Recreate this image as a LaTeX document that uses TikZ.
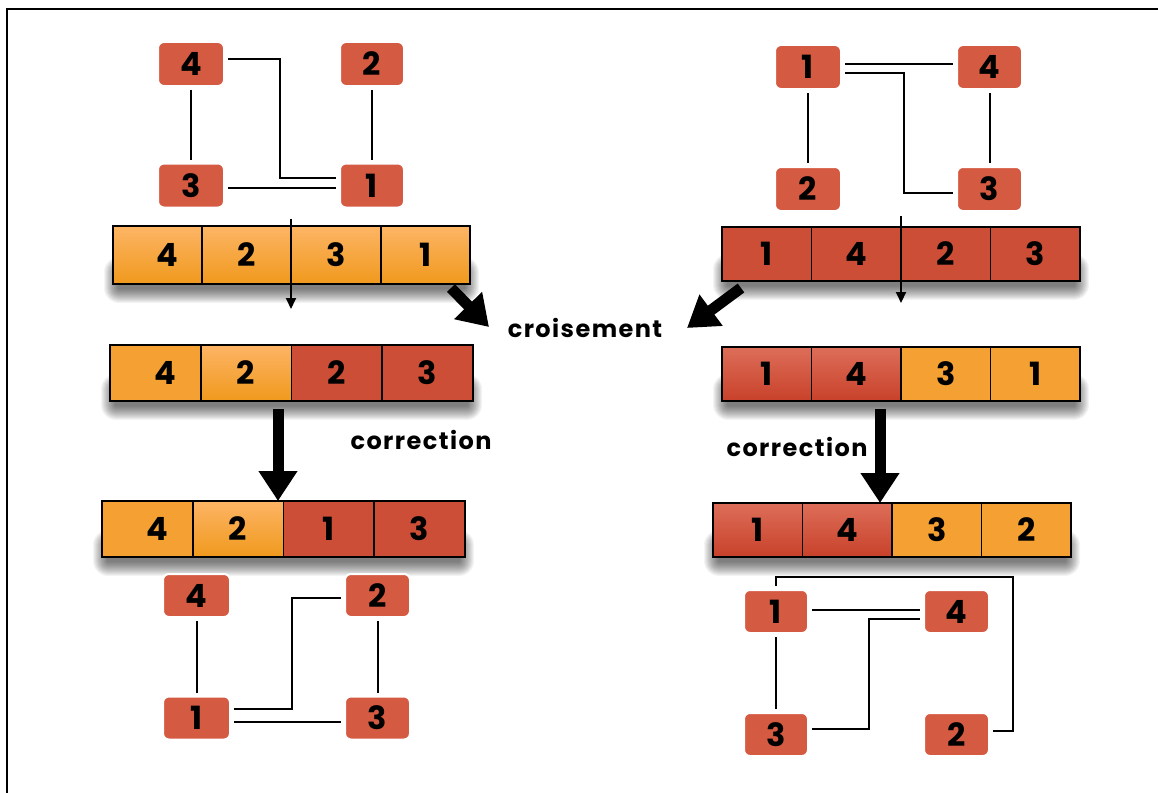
\documentclass[tikz,border=0pt]{standalone}
\usepackage{fontspec}
\setmainfont{Poppins}
\usetikzlibrary{arrows.meta,calc}

\definecolor{nodered}{HTML}{D55A42}
\definecolor{cellred}{HTML}{CD4E37}
\definecolor{redtop}{HTML}{DD6E59}
\definecolor{redbot}{HTML}{C8412A}
\definecolor{orflat}{HTML}{F4A032}
\definecolor{ortop}{HTML}{FDB565}
\definecolor{orbot}{HTML}{F0991D}

\newcommand\dgfont{\fontsize{32}{38}\selectfont\bfseries}
\newcommand\lbfont{\fontsize{24}{28}\selectfont\bfseries\addfontfeature{LetterSpace=6}}

% soft drop shadow under an array frame: stacked translucent rectangles
\newcommand\arrshadow[1]{%
  \foreach \r in {1,...,15}{%
    \fill[black, opacity=0.045, rounded corners=\r pt]
      ($(#1.south west)+(6-\r,-12-\r)$) rectangle ($(#1.south east)+(\r-6,4+\r)$);
  }}

\begin{document}
\begin{tikzpicture}[x=1pt,y=-1pt,
  gnode/.style={fill=nodered, draw=white, line width=2pt, rounded corners=6pt,
    minimum width=66pt, minimum height=44pt, inner sep=0pt, outer sep=4pt, font=\dgfont},
  arrframe/.style={draw=none, outer sep=0pt, inner sep=0pt},
  cell/.style={draw=black, line width=1.8pt, inner sep=0pt, outer sep=0pt, font=\dgfont},
  rflat/.style={fill=cellred},
  rgrad/.style={top color=redtop, bottom color=redbot},
  oflat/.style={fill=orflat},
  ograd/.style={top color=ortop, bottom color=orbot},
  edge/.style={line width=2pt},
  cutarrow/.style={line width=2pt, -{Triangle[length=11pt,width=10pt]}},
  bigarrow/.style={line width=11pt, -{Triangle[length=30pt,width=37pt]}},
  lbl/.style={font=\lbfont, inner sep=0pt}
]
\useasboundingbox (0,0) rectangle (1158,792);
\fill[white] (0,0) rectangle (1158,792);
% outer frame (top and left edges)
\draw[line width=2.5pt] (7,800) -- (7,9) -- (1170,9);

% ---------- top-left parent graph ----------
\node[gnode] (TL4) at (191,64) {4};
\node[gnode, minimum width=64pt] (TL2) at (372,64) {2};
\node[gnode] (TL3) at (191,185.5) {3};
\node[gnode, minimum width=64pt] (TL1) at (372,185.5) {1};
\draw[edge] (TL4.south) -- (TL3.north);
\draw[edge] (TL2.south) -- (TL1.north);
\draw[edge] ($(TL4.east)+(0,-5)$) -- ++(52,0) |- ($(TL1.west)+(0,-8)$);
\draw[edge] ($(TL3.east)+(0,2.5)$) -- ($(TL1.west)+(0,2.5)$);

% ---------- top-right parent graph ----------
\node[gnode] (TR1) at (808,67) {1};
\node[gnode, minimum width=65pt] (TR4) at (989.5,67) {4};
\node[gnode] (TR2) at (808,189) {2};
\node[gnode, minimum width=65pt] (TR3) at (989.5,189) {3};
\draw[edge] ($(TR1.east)+(0,-3)$) -- ($(TR4.west)+(0,-3)$);
\draw[edge] ($(TR1.east)+(0,6)$) -- ++(59,0) |- ($(TR3.west)+(0,4)$);
\draw[edge] (TR1.south) -- (TR2.north);
\draw[edge] (TR4.south) -- (TR3.north);

% ---------- parent arrays ----------
\node[arrframe, minimum width=357pt, minimum height=58pt] (A1) at (291.5,255) {};
\arrshadow{A1}
\node[cell, ograd, minimum width=89.25pt, minimum height=58pt] (A1a) at (157.6,255) {\hspace{20pt}4};
\node[cell, ograd, minimum width=89.25pt, minimum height=58pt] (A1b) at (246.9,255) {2};
\node[cell, ograd, minimum width=89.25pt, minimum height=58pt] (A1c) at (336.1,255) {3};
\node[cell, ograd, minimum width=89.25pt, minimum height=58pt] (A1d) at (425.4,255) {1};

\node[arrframe, minimum width=358pt, minimum height=54pt] (A2) at (901,254) {};
\arrshadow{A2}
\node[cell, rflat, minimum width=89.5pt, minimum height=54pt] (A2a) at (766.75,254) {1};
\node[cell, rflat, minimum width=89.5pt, minimum height=54pt] (A2b) at (856.25,254) {4};
\node[cell, rflat, minimum width=89.5pt, minimum height=54pt] (A2c) at (945.75,254) {2};
\node[cell, rflat, minimum width=89.5pt, minimum height=54pt] (A2d) at (1035.25,254) {3};

% cut points
\coordinate (cutL0) at (291,219);
\coordinate (cutL1) at (291,309);
\draw[cutarrow] (cutL0) -- (cutL1);
\coordinate (cutR0) at (901,216);
\coordinate (cutR1) at (901,303);
\draw[cutarrow] (cutR0) -- (cutR1);

% ---------- crossover ----------
\node[lbl] (CR) at (585,328) {croisement};
\coordinate (xL0) at (451,288);
\coordinate (xL1) at (489,327);
\draw[bigarrow] (xL0) -- (xL1);
\coordinate (xR0) at (741,288);
\coordinate (xR1) at (687,328);
\draw[bigarrow] (xR0) -- (xR1);

% ---------- children before correction ----------
\node[arrframe, minimum width=363pt, minimum height=56pt] (B1) at (291.5,373) {};
\arrshadow{B1}
\node[cell, oflat, minimum width=90.75pt, minimum height=56pt] (B1a) at (155.4,373) {\hspace{20pt}4};
\node[cell, ograd, minimum width=90.75pt, minimum height=56pt] (B1b) at (246.1,373) {2};
\node[cell, rflat, minimum width=90.75pt, minimum height=56pt] (B1c) at (336.9,373) {2};
\node[cell, rflat, minimum width=90.75pt, minimum height=56pt] (B1d) at (427.6,373) {3};

\node[arrframe, minimum width=358pt, minimum height=54pt] (B2) at (901,374) {};
\arrshadow{B2}
\node[cell, rgrad, minimum width=89.5pt, minimum height=54pt] (B2a) at (766.75,374) {1};
\node[cell, rgrad, minimum width=89.5pt, minimum height=54pt] (B2b) at (856.25,374) {4};
\node[cell, oflat, minimum width=89.5pt, minimum height=54pt] (B2c) at (945.75,374) {3};
\node[cell, oflat, minimum width=89.5pt, minimum height=54pt] (B2d) at (1035.25,374) {1};

% ---------- correction ----------
\node[lbl] (CL) at (421,440) {correction};
\node[lbl] (CRr) at (797,447) {correction};

\node[arrframe, minimum width=363pt, minimum height=56pt] (C1) at (283.5,529) {};
\arrshadow{C1}
\node[cell, oflat, minimum width=90.75pt, minimum height=56pt] (C1a) at (147.4,529) {\hspace{20pt}4};
\node[cell, ograd, minimum width=90.75pt, minimum height=56pt] (C1b) at (238.1,529) {2};
\node[cell, rflat, minimum width=90.75pt, minimum height=56pt] (C1c) at (328.9,529) {1};
\node[cell, rflat, minimum width=90.75pt, minimum height=56pt] (C1d) at (419.6,529) {3};

\node[arrframe, minimum width=358pt, minimum height=54pt] (C2) at (892,530) {};
\arrshadow{C2}
\node[cell, rgrad, minimum width=89.5pt, minimum height=54pt] (C2a) at (757.75,530) {1};
\node[cell, rgrad, minimum width=89.5pt, minimum height=54pt] (C2b) at (847.25,530) {4};
\node[cell, oflat, minimum width=89.5pt, minimum height=54pt] (C2c) at (936.75,530) {3};
\node[cell, oflat, minimum width=89.5pt, minimum height=54pt] (C2d) at (1026.25,530) {2};

\draw[bigarrow] ($(B1.south)+(-13.5,8)$) -- ($(C1.north)+(-5.5,0)$);
\draw[bigarrow] ($(B2.south)+(-21,8)$) -- ($(C2.north)+(-12,0)$);

% ---------- bottom-left child graph ----------
\node[gnode, minimum width=67pt, minimum height=43pt] (BL4) at (196.5,595.5) {4};
\node[gnode, minimum width=65pt, minimum height=43pt] (BL2) at (377.5,595.5) {2};
\node[gnode, minimum width=67pt, minimum height=43pt] (BL1) at (196.5,718) {1};
\node[gnode, minimum width=65pt, minimum height=43pt] (BL3) at (377.5,718) {3};
\draw[edge] (BL4.south) -- (BL1.north);
\draw[edge] (BL2.south) -- (BL3.north);
\draw[edge] ($(BL1.east)+(0,-9)$) -- ++(58,0) |- ($(BL2.west)+(0,2.5)$);
\draw[edge] ($(BL1.east)+(0,3.5)$) -- ($(BL3.west)+(0,3.5)$);

% ---------- bottom-right child graph ----------
\node[gnode, minimum width=64pt, minimum height=43pt] (BR1) at (776,611.5) {1};
\node[gnode, minimum width=65pt, minimum height=43pt] (BR4) at (956.5,611.5) {4};
\node[gnode, minimum width=64pt, minimum height=43pt] (BR3) at (776,734.5) {3};
\node[gnode, minimum width=65pt, minimum height=43pt] (BR2) at (956.5,734.5) {2};
\draw[edge] ($(BR1.east)+(0,-1.5)$) -- ($(BR4.west)+(0,-1.5)$);
\draw[edge] ($(BR4.west)+(0,7)$) -- ++(-51,0) |- ($(BR3.east)+(0,-5.5)$);
\draw[edge] (BR1.south) -- (BR3.north);
\draw[edge] (BR1.north) -- ++(0,-9) -| ($(BR2.east)+(20,-3.5)$) -- ($(BR2.east)+(0,-3.5)$);
\end{tikzpicture}
\end{document}
